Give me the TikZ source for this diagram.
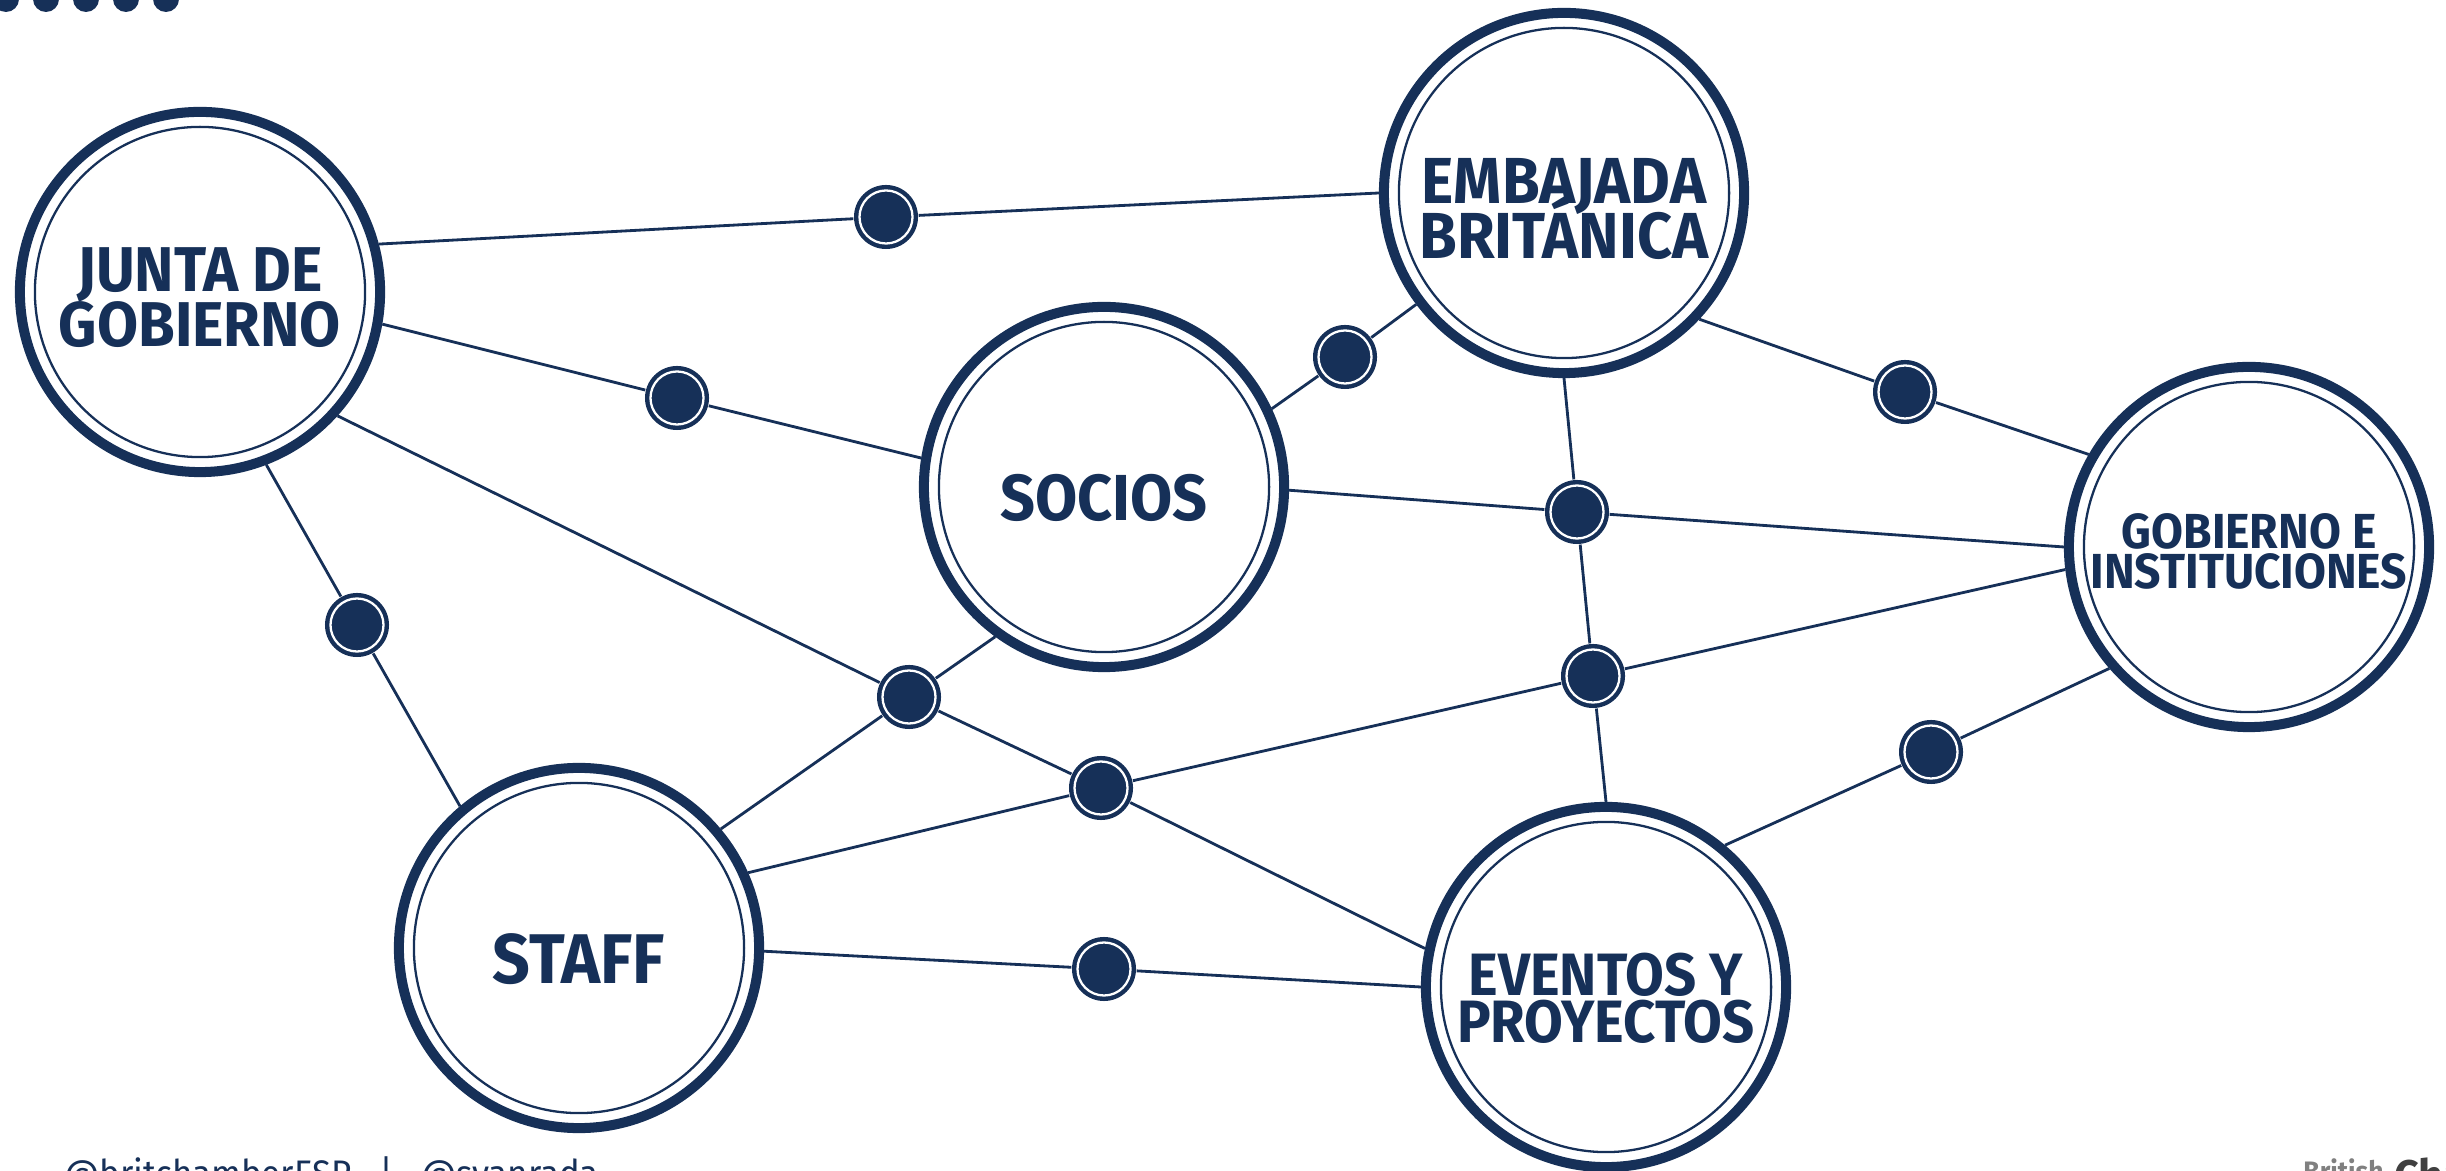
\documentclass[tikz,border=0pt]{standalone}
\usepackage{fontspec}
\newfontfamily\hubfont[FakeStretch=0.94]{Fira Sans}
\newcommand\tightlines{\lineskiplimit=-20pt\relax}
\newcommand\lift[1]{\rule{0pt}{#1}}
\definecolor{navy}{HTML}{163058}

\begin{document}
\begin{tikzpicture}[x=0.01cm,y=-0.01cm,
  hub node/.style={circle,draw=navy,line width=2.85pt,fill=white,minimum size=3.6cm,
    inner sep=0pt,text=navy,align=center,
    path picture={\draw[navy,line width=0.65pt] (path picture bounding box.center) circle (1.65cm);}},
  dot node/.style={circle,fill=navy,minimum size=0.64cm,inner sep=0pt,
    path picture={\draw[white,line width=0.65pt] (path picture bounding box.center) circle (0.265cm);}},
  link/.style={draw=navy,line width=0.8pt}]

  \useasboundingbox (0,0) rectangle (2446,1171);
  \clip (0,0) rectangle (2446,1171);

  % dots at the top edge
  \foreach \x in {6,46,...,166}
    \fill[navy] (\x,-1) circle (0.13cm);

  \node[hub node,font=\hubfont\bfseries\fontsize{18}{15.6}\selectfont\tightlines] (junta) at (200,292) {\lift{0.55cm}JUNTA DE\\GOBIERNO};
  \node[hub node,font=\hubfont\bfseries\fontsize{18.5}{15.6}\selectfont\tightlines] (emb) at (1564,193) {\lift{0.77cm}EMBAJADA\\BRITÁNICA};
  \node[hub node,font=\hubfont\bfseries\fontsize{18.5}{15}\selectfont] (soc) at (1104,487) {\lift{0.69cm}SOCIOS};
  \node[hub node,font=\hubfont\bfseries\fontsize{14}{11.3}\selectfont\tightlines] (gob) at (2249,547) {\lift{0.44cm}GOBIERNO E\\INSTITUCIONES};
  \node[hub node,font=\hubfont\bfseries\fontsize{20}{16}\selectfont] (staff) at (579,948) {\lift{0.73cm}STAFF};
  \node[hub node,font=\hubfont\bfseries\fontsize{17}{13.5}\selectfont\tightlines] (ev) at (1606,987) {\lift{0.65cm}EVENTOS Y\\PROYECTOS};

  \node[dot node] (d1) at (886,217) {};
  \node[dot node] (d2) at (677,398) {};
  \node[dot node] (d3) at (357,625) {};
  \node[dot node] (d4) at (1345,357) {};
  \node[dot node] (d5) at (1905,392) {};
  \node[dot node] (d6) at (1577,512) {};
  \node[dot node] (d7) at (1593,676) {};
  \node[dot node] (d8) at (909,697) {};
  \node[dot node] (d9) at (1101,788) {};
  \node[dot node] (d10) at (1931,752) {};
  \node[dot node] (d11) at (1104,969) {};

  \path[link]
    (junta.15) edge (d1)
    (d1) edge (emb.180)
    (junta.-10) edge (d2)
    (d2) edge (soc.171)
    (junta.-69) edge (d3)
    (d3) edge (staff.130)
    (junta.-42) edge (d8)
    (d8) edge (d9)
    (d9) edge (ev.168)
    (soc.25) edge (d4)
    (d4) edge (emb.-143)
    (soc.-126) edge (d8)
    (d8) edge (staff.40)
    (soc.-1) edge (d6)
    (d6) edge (gob.180)
    (emb.-43) edge (d5)
    (d5) edge (gob.150)
    (emb.-90) edge (d6)
    (d6) edge (d7)
    (d7) edge (ev.90)
    (staff.24) edge (d9)
    (d9) edge (d7)
    (d7) edge (gob.187)
    (staff.-1) edge (d11)
    (d11) edge (ev.180)
    (ev.50) edge (d10)
    (d10) edge (gob.-139)
    ;

  \node[anchor=base west,text=navy,font=\hubfont\fontsize{10.5}{10.5}\selectfont] (handles) at (52,1186) {@britchamberESP\hspace{8pt}|\hspace{8pt}@svanrada};
  \node[anchor=base west,text=gray,font=\hubfont\bfseries\fontsize{8}{8}\selectfont] (brand) at (2291,1181) {British};
  \node[anchor=base west,text=darkgray,font=\hubfont\bfseries\fontsize{13}{13}\selectfont] (chamber) at (2382,1192) {Chamber};
\end{tikzpicture}
\end{document}
